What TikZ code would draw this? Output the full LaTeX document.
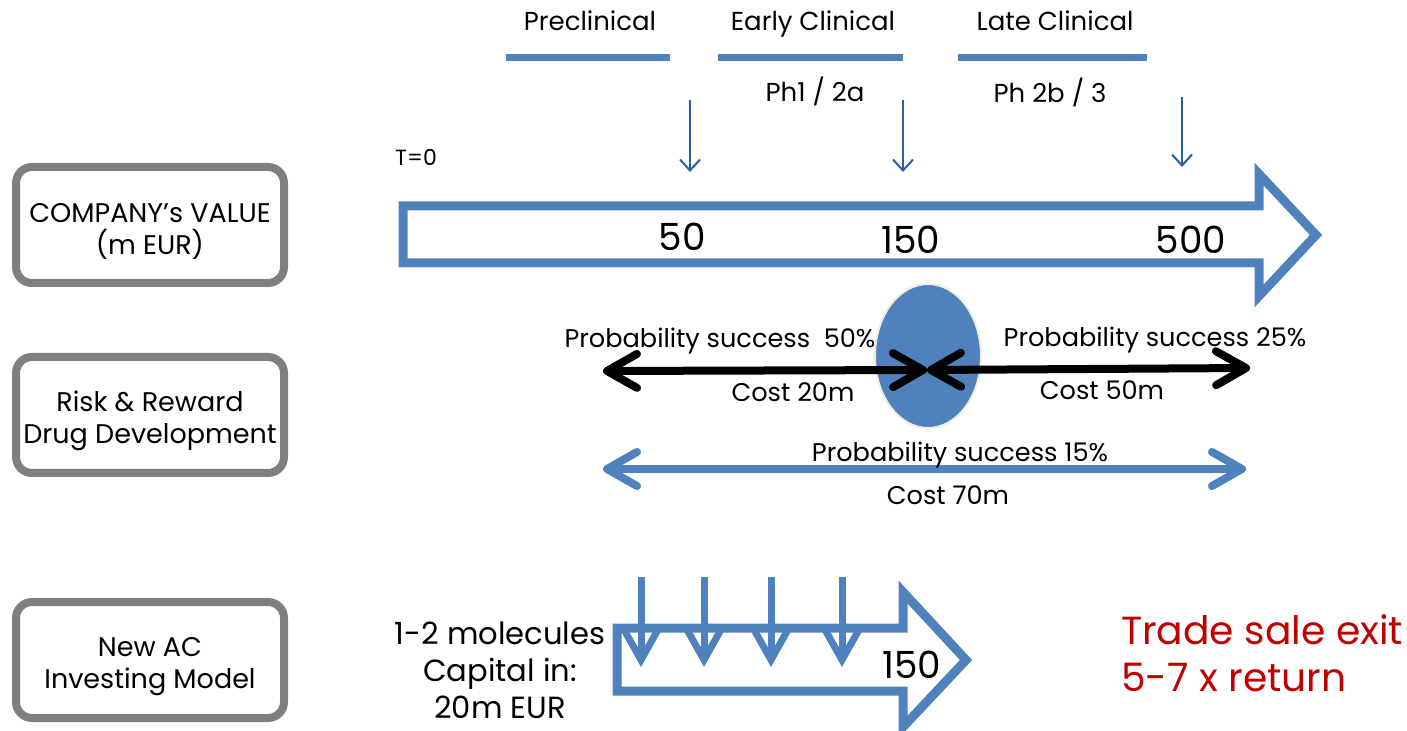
\documentclass[tikz,border=0pt]{standalone}
\usepackage{fontspec}
\setmainfont{Poppins}
\usetikzlibrary{arrows.meta, shapes.geometric, positioning}
\definecolor{azulppt}{HTML}{4F81BD}
\definecolor{azuloscuro}{HTML}{2660A4}
\definecolor{grisbox}{HTML}{7F7F7F}
\definecolor{rojoexit}{HTML}{C00000}
\definecolor{bordeoval}{HTML}{EEECE1}
\newcommand{\boxstrut}{\rule{0pt}{16pt}}

\begin{document}
\begin{tikzpicture}[
  x=0.5pt, y=-0.5pt,
  rowbox/.style={
    rectangle, rounded corners=8pt,
    draw=grisbox, line width=4pt,
    minimum width=134pt, minimum height=58pt,
    align=center, font=\fontsize{13.5}{16}\selectfont
  },
  phase/.style={anchor=base, font=\fontsize{13}{16}\selectfont},
  bar/.style={azulppt, line width=3.5pt},
  tick/.style={-{Straight Barb[length=5.5pt,width=10pt]}, azuloscuro, line width=1pt},
  bigarrow/.style={draw=azulppt, line width=4.5pt, line join=miter},
  val/.style={font=\fontsize{18.7}{22}\selectfont},
  prob/.style={font=\fontsize{12.8}{16}\selectfont},
  risk/.style={{Straight Barb[length=15pt,width=17pt,round]}-{Straight Barb[length=15pt,width=17pt,round]},
    line width=4pt},
  drop/.style={-{Straight Barb[length=16pt,width=18pt]}, azulppt, line width=3.5pt}
]
  \useasboundingbox (0,0) rectangle (1407,731);

  % row titles
  \node[rowbox] (value) at (150,225) {\boxstrut COMPANY's VALUE\\(m EUR)};
  \node[rowbox] (risk)  at (150,415) {\boxstrut Risk \& Reward\\Drug Development};
  \node[rowbox] (model) at (150,660) {\boxstrut New AC\\Investing Model};

  % phases
  \foreach \nm/\x/\xa/\xb/\txt in {pre/590/506/670/Preclinical,
                                   early/813/718/903/Early Clinical,
                                   late/1055/958/1147/Late Clinical}{
    \node[phase] (\nm) at (\x,31) {\txt};
    \coordinate (\nm a) at (\xa,58);
    \coordinate (\nm b) at (\xb,58);
    \draw[bar] (\nm a) -- (\nm b);
  }
  \node[phase] (ph1) at (815,102) {Ph1 / 2a};
  \node[phase] (ph2) at (1050,103) {Ph 2b / 3};
  \node[font=\fontsize{11}{13}\selectfont] (t0) at (416,157) {T=0};

  % milestones
  \foreach \nm/\x/\ya/\yb in {m1/690/100/172, m2/903/100/172, m3/1182/97/167}{
    \coordinate (\nm a) at (\x,\ya);
    \coordinate (\nm b) at (\x,\yb);
    \draw[tick] (\nm a) -- (\nm b);
  }

  % company value arrow
  \draw[bigarrow] (403,206) -- (1259,206) -- (1259,174) -- (1316,235)
    -- (1259,296) -- (1259,263) -- (403,263) -- cycle;
  \node[val] (v50)  at (682,237) {50};
  \node[val] (v150) at (911,240) {150};
  \node[val] (v500) at (1191,240) {500};

  % risk and reward
  \node[ellipse, fill=azulppt, draw=bordeoval, line width=1pt, inner sep=0pt,
        minimum width=53pt, minimum height=72pt] (hub) at (928,356) {};
  \coordinate (la) at (603,371);
  \coordinate (lb) at (927,370);
  \coordinate (rb) at (1250,368);
  \draw[risk] (la) -- (lb);
  \draw[risk] (lb) -- (rb);
  \node[prob] (p50) at (720,341) {Probability success\ \ 50\%};
  \node[prob] (c20) at (793,392) {Cost 20m};
  \node[prob] (p25) at (1155,340) {Probability success 25\%};
  \node[prob] (c50) at (1102,390) {Cost 50m};

  \coordinate (fa) at (603,469);
  \coordinate (fb) at (1246,469);
  \draw[risk, azulppt] (fa) -- (fb);
  \node[prob] (p15) at (960,455) {Probability success 15\%};
  \node[prob] (c70) at (948,495) {Cost 70m};

  % investing model arrow
  \draw[bigarrow] (617,628) -- (903,628) -- (903,592) -- (966,660)
    -- (903,727) -- (903,691) -- (617,691) -- cycle;
  \foreach \x [count=\i] in {641,704,771,842}{
    \coordinate (d\i a) at (\x,577);
    \coordinate (d\i b) at (\x,667);
    \draw[drop] (d\i a) -- (d\i b);
  }
  \node[val] (n150) at (912,665) {150};
  \node[align=center, font=\fontsize{15.3}{18.5}\selectfont] (capital) at (500,670)
    {1-2 molecules\\Capital in:\\20m EUR};
  \node[anchor=west, align=left, text=rojoexit, font=\fontsize{19.6}{23.5}\selectfont]
    (exit) at (1114,653) {Trade sale exit\\5-7 x return};
\end{tikzpicture}
\end{document}
